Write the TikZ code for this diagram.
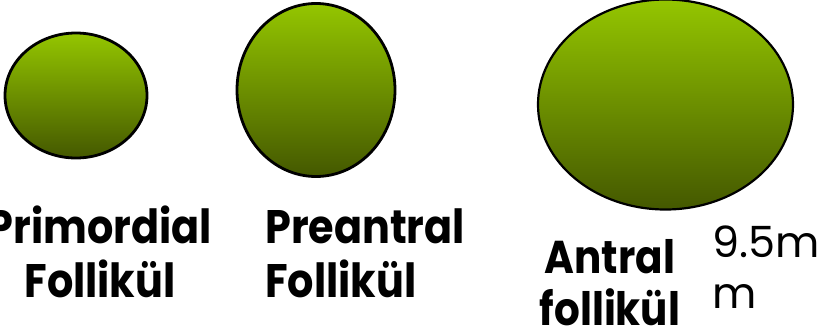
\documentclass[tikz,border=0pt]{standalone}
\usepackage{fontspec}
\setmainfont{Poppins}
\newfontfamily\follfont{Poppins}[FakeStretch=0.88]
\usetikzlibrary{shapes.geometric}

\definecolor{folltop}{RGB}{148,198,0}
\definecolor{follbot}{RGB}{68,88,0}

\begin{document}
\begin{tikzpicture}[x=1pt, y=-1pt,
    follikel/.style={ellipse, draw=black, line width=2.8pt, inner sep=0pt,
      top color=folltop, bottom color=follbot},
    etikett/.style={inner sep=0pt, font=\follfont\bfseries\fontsize{47}{54}\selectfont}]
    \useasboundingbox (0,0) rectangle (825,335);
    % die drei Follikel
    \node[follikel, minimum width=142pt, minimum height=125pt] (primordial) at (76,95.5) {};
    \node[follikel, minimum width=158pt, minimum height=173pt] (preantral) at (316,90) {};
    \node[follikel, line width=2.2pt, minimum width=255pt, minimum height=210pt] (antral) at (665.5,104.5) {};
    % Beschriftung (base = letzte Zeile)
    \node[etikett, align=center, anchor=base] (primtext) at (100,297) {Primordial\\Follikül};
    \node[etikett, align=left, anchor=base west] (pretext) at (265,297) {Preantral\\Follikül};
    \node[etikett, align=center, anchor=base, font=\follfont\bfseries\fontsize{46}{52}\selectfont]
      (antext) at (610,325) {Antral\\follikül};
    \node[inner sep=0pt, align=left, anchor=base west, font=\fontsize{43}{51}\selectfont]
      (groesse) at (712,308) {9.5m\\m};
\end{tikzpicture}
\end{document}
